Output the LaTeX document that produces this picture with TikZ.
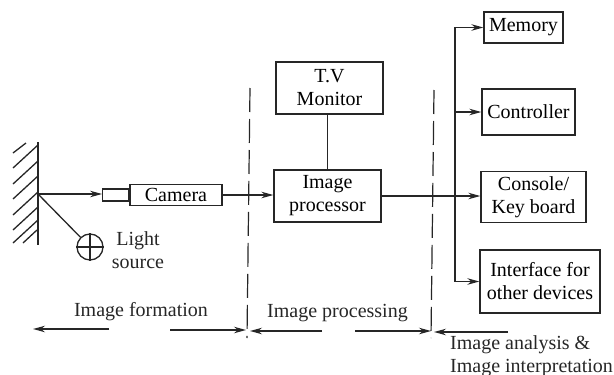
\documentclass[tikz,border=0pt]{standalone}
\usepackage{fontspec}
\setmainfont{Liberation Serif}
\usetikzlibrary{arrows.meta}

\begin{document}
\begin{tikzpicture}[
  x=1pt, y=-1pt,
  font=\fontsize{20}{23}\selectfont,
  >={Stealth[length=12pt,width=6.5pt]},
  blockbox/.style={draw=black!85, line width=1.3pt, align=center, inner sep=0pt},
  wireline/.style={draw=black!85, line width=1.3pt},
  flowmap/.style={->, draw=black!85, line width=1.3pt},
  stageline/.style={draw=black!85, line width=1.2pt, dash pattern=on 24pt off 7pt},
  stagetext/.style={inner sep=0pt, text=black!85}
]
  \useasboundingbox (0,0) rectangle (614,375);
  \node[blockbox, minimum width=107pt, minimum height=52pt] (monitor) at (329.5,88) {T.V\\Monitor};
  \node[blockbox, minimum width=107pt, minimum height=52pt] (processor) at (327.5,196) {Image\\processor};
  \node[blockbox, minimum width=92pt, minimum height=21pt] (camera) at (176,195) {Camera};
  \node[blockbox, minimum width=26pt, minimum height=12pt, anchor=east] (lens) at (camera.west) {};
  \node[blockbox, minimum width=79pt, minimum height=31pt] (memory) at (523.5,27.5) {Memory};
  \node[blockbox, minimum width=93pt, minimum height=46pt] (controller) at (528.5,112) {Controller};
  \node[blockbox, minimum width=105pt, minimum height=51pt] (console) at (533.5,197) {Console/\\Key board};
  \node[blockbox, minimum width=120pt, minimum height=63pt] (interface) at (540,281.5) {Interface for\\other devices};
  \node[blockbox, circle, minimum size=26pt] (lamp) at (90,247) {};
  \node[stagetext, align=center] (lamptext) at (138,250) {Light\\source};

  \coordinate (walltop) at (38,142);
  \coordinate (wallend) at (38,245);
  \coordinate (wallpt) at (38,194);
  \draw[wireline] (walltop) -- (wallend);
  \foreach \hy in {168,184,199,215,230,243} {
    \draw[wireline] (38,\hy-23) -- (13,\hy);
  }
  \draw[wireline] (26,143) -- (13,153);
  \draw[wireline] (37,230) -- (23,243);
  \draw[flowmap] (wallpt) -- (wallpt -| lens.west);
  \draw[wireline] (wallpt) -- (lamp);
  \draw[wireline] (lamp.north) -- (lamp.south);
  \draw[wireline] (lamp.west) -- (lamp.east);
  \draw[flowmap] (camera.east) -- (camera.east -| processor.west);
  \draw[wireline] (processor |- monitor.south) -- (processor);
  \draw[flowmap] (processor.east) -- (console.west |- processor.east);

  \coordinate (busjoin) at (455,196);
  \draw[flowmap] (busjoin) |- (memory);
  \draw[flowmap] (busjoin |- controller) -- (controller);
  \draw[flowmap] (busjoin) |- (interface);

  \coordinate (stageatop) at (250,88);
  \coordinate (stageabot) at (247,338);
  \coordinate (stagebtop) at (434,90);
  \coordinate (stagebbot) at (431,338);
  \draw[stageline] (stageatop) -- (stageabot);
  \draw[stageline] (stagebtop) -- (stagebbot);

  \node[stagetext] (formation) at (141,312) {Image formation};
  \node[stagetext] (processing) at (337.5,313) {Image processing};
  \node[stagetext, align=left, anchor=north west] (analysis) at (450,335) {Image analysis \&\\Image interpretation};

  \coordinate (formleft) at (33,329);
  \coordinate (formlstart) at (109,329);
  \coordinate (formrstart) at (170,330);
  \coordinate (formright) at (246,330);
  \coordinate (proclstart) at (322,331);
  \coordinate (procleft) at (250,331);
  \coordinate (procrstart) at (355,331);
  \coordinate (procright) at (431,331);
  \coordinate (anastart) at (508,332);
  \coordinate (analeft) at (434,332);
  \draw[flowmap] (formlstart) -- (formleft);
  \draw[flowmap] (formrstart) -- (formright);
  \draw[flowmap] (proclstart) -- (procleft);
  \draw[flowmap] (procrstart) -- (procright);
  \draw[flowmap] (anastart) -- (analeft);
\end{tikzpicture}
\end{document}
